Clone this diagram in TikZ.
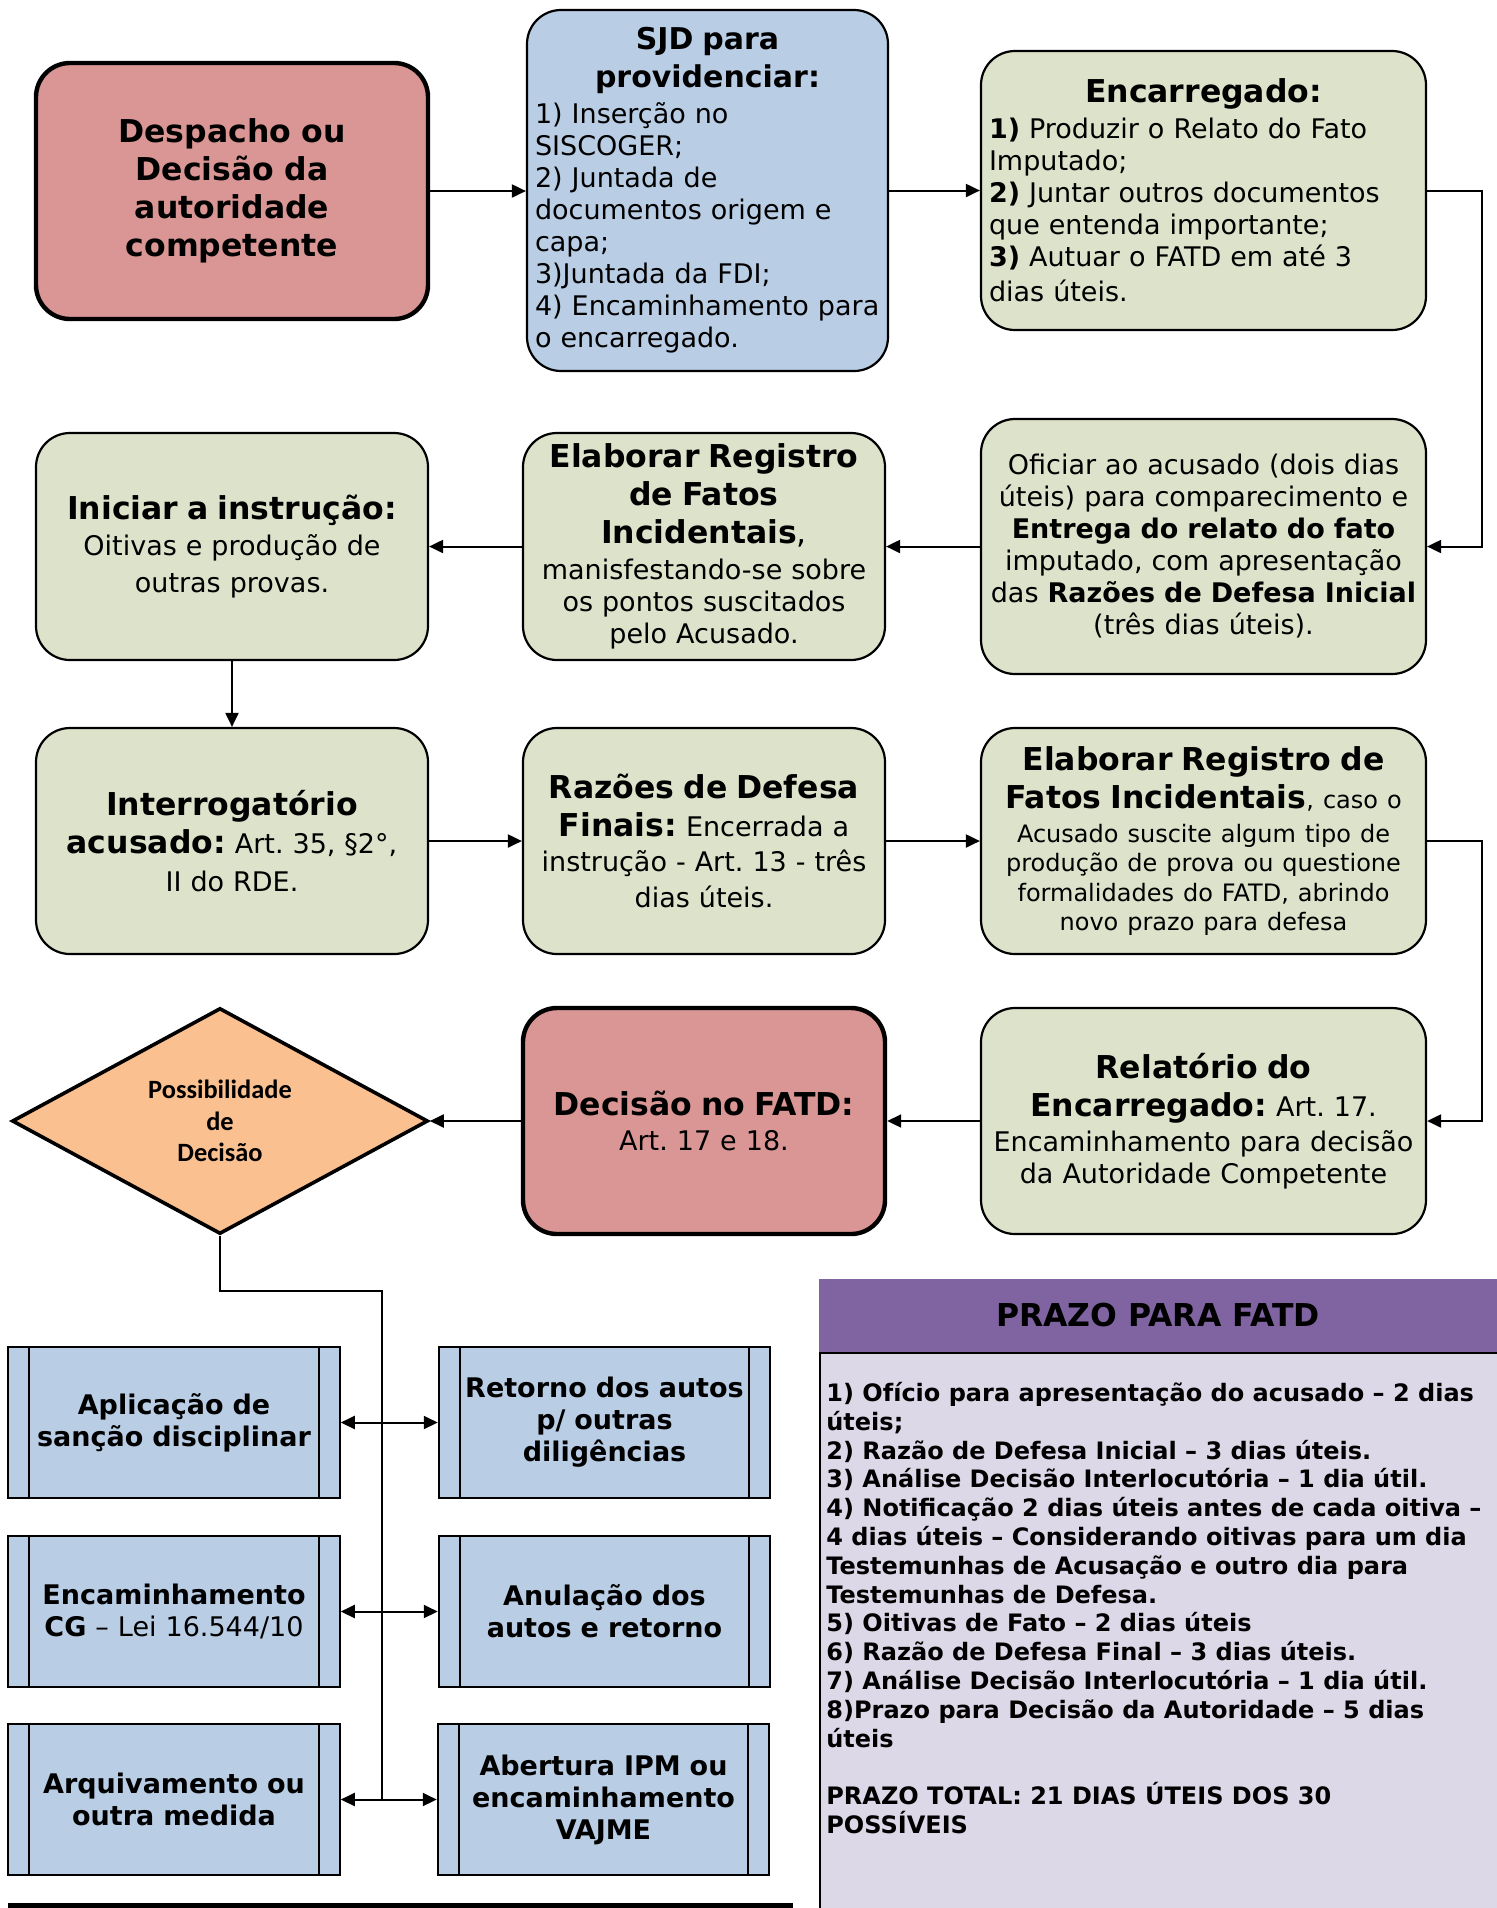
\documentclass[tikz,border=0pt]{standalone}
\usepackage{fontspec}
\setmainfont{DejaVu Sans}
\newfontfamily\carlfont{Carlito}
\usetikzlibrary{shapes.geometric,arrows.meta,calc}
\definecolor{redbox}{HTML}{D99694}
\definecolor{bluebox}{HTML}{B9CDE5}
\definecolor{greenbox}{HTML}{DDE2CB}
\definecolor{peach}{HTML}{FAC090}
\definecolor{purplehd}{HTML}{8064A2}
\definecolor{lavender}{HTML}{DDD8E8}
\newcommand\Tfont{\fontsize{15.75pt}{19pt}\selectfont\bfseries}
\newcommand\Bfont{\fontsize{13.5pt}{16pt}\selectfont}
\newcommand\Sfont{\fontsize{12pt}{14.8pt}\selectfont}
\frenchspacing
\begin{document}
\begin{tikzpicture}[x=0.5pt,y=-0.5pt,
  rbox/.style={rectangle, rounded corners=17pt, draw=black, line width=1.1pt, inner xsep=4pt, inner ysep=0pt, align=center, font=\Bfont},
  gbox/.style={rbox, fill=greenbox},
  redb/.style={rbox, fill=redbox, line width=2.2pt},
  pproc/.style={rectangle, draw=black, line width=1pt, fill=bluebox, minimum width=165.75pt, minimum height=75.5pt, text width=150pt, align=center, inner sep=0pt, font=\Bfont\bfseries,
    path picture={\draw[line width=1pt] ([xshift=10.5pt]path picture bounding box.north west) -- ([xshift=10.5pt]path picture bounding box.south west);
      \draw[line width=1pt] ([xshift=-10.5pt]path picture bounding box.north east) -- ([xshift=-10.5pt]path picture bounding box.south east);}},
  conn/.style={line width=1pt, -{Triangle[length=7pt,width=6.5pt]}},
  dconn/.style={line width=1pt, {Triangle[length=7pt,width=6.5pt]}-{Triangle[length=7pt,width=6.5pt]}},
  plain/.style={line width=1pt}
]
\useasboundingbox (0,0) rectangle (1497,1908);

% Row 1
\node[redb, minimum width=196pt, minimum height=128pt, text width=188pt, font=\Tfont] (desp) at (232,191)
  {Despacho ou\\Decisão da\\autoridade\\competente};
\node[rbox, fill=bluebox, minimum width=180.5pt, minimum height=180.5pt, text width=172.5pt] (sjd) at (707.5,190.5)
  {{\fontsize{15pt}{19pt}\selectfont\bfseries\centering SJD para\\providenciar:\par}\vspace{2pt}{\Bfont\raggedright 1) Inserção no\\SISCOGER;\\2) Juntada de\\documentos origem e\\capa;\\3)Juntada da FDI;\\4) Encaminhamento para\\o encarregado.\par}};
\node[gbox, minimum width=222.5pt, minimum height=139.5pt, text width=214.5pt] (enc) at (1203.5,190.5)
  {{\Tfont\centering Encarregado:\par}\vspace{2pt}{\Bfont\raggedright \textbf{1)} Produzir o Relato do Fato\\Imputado;\\\textbf{2)} Juntar outros documentos\\que entenda importante;\\\textbf{3)} Autuar o FATD em até 3\\[1.5pt]dias úteis.\par}};

% Row 2
\node[gbox, minimum width=196pt, minimum height=113.5pt, text width=188pt] (ini) at (232,546.5)
  {{\Tfont Iniciar a instrução:\par}\vspace{2pt}{\Bfont Oitivas e produção de\\[2.25pt]outras provas.\par}};
\node[gbox, minimum width=181pt, minimum height=113.5pt, text width=173pt] (ela1) at (704,546.5)
  {{\Tfont Elaborar Registro\\de Fatos\\Incidentais{\mdseries ,}\par}\vspace{2pt}{\Bfont manisfestando-se sobre\\os pontos suscitados\\pelo Acusado.\par}};
\node[gbox, minimum width=222.5pt, minimum height=127.5pt, text width=214.5pt] (ofi) at (1203.5,546.5)
  {Oficiar ao acusado (dois dias\\úteis) para comparecimento e\\\textbf{Entrega do relato do fato}\\imputado, com apresentação\\das \textbf{Razões de Defesa Inicial}\\(três dias úteis).};

% Row 3
\node[gbox, minimum width=196pt, minimum height=113pt, text width=188pt] (int) at (232,841)
  {{\Tfont Interrogatório\\acusado: {\Bfont\mdseries Art. 35, §2°,}\par}\vspace{3pt}{\Bfont II do RDE.\par}};
\node[gbox, minimum width=181pt, minimum height=113pt, text width=173pt] (raz) at (704,841)
  {{\Tfont Razões de Defesa\\Finais: {\Bfont\mdseries Encerrada a}\par}\vspace{1.5pt}{\Bfont instrução - Art. 13 - três\\[2.25pt]dias úteis.\par}};
\node[gbox, minimum width=222.5pt, minimum height=113pt, text width=214.5pt] (ela2) at (1203.5,841)
  {{\Tfont Elaborar Registro de\\Fatos Incidentais{\Sfont\mdseries , caso o}\par}\vspace{2.2pt}{\Sfont Acusado suscite algum tipo de\\produção de prova ou questione\\formalidades do FATD, abrindo\\novo prazo para defesa\par}};

% Row 4
\node[diamond, draw=black, line width=1.8pt, fill=peach, minimum width=208pt, minimum height=113pt, aspect=1.84, inner sep=0pt, align=center,
  font=\carlfont\bfseries\fontsize{13.2pt}{15.8pt}\selectfont] (dia) at (220,1121) {Possibilidade\\de\\Decisão};
\node[redb, minimum width=181pt, minimum height=113pt, text width=173pt] (dec) at (704,1121)
  {{\Tfont Decisão no FATD:\par}\vspace{1.5pt}{\Bfont Art. 17 e 18.\par}};
\node[gbox, minimum width=222.5pt, minimum height=113pt, text width=214.5pt] (rel) at (1203.5,1121)
  {{\Tfont Relatório do\\Encarregado: {\Bfont\mdseries Art. 17.}\par}\vspace{1.5pt}{\Bfont Encaminhamento para decisão\\da Autoridade Competente\par}};

% Decision outcomes
\node[pproc] (apl) at (174,1422.5) {Aplicação de\\sanção disciplinar};
\node[pproc] (ret) at (604.5,1422.5) {Retorno dos autos\\p/ outras\\diligências};
\node[pproc] (encg) at (174,1611.5) {Encaminhamento\\CG {\mdseries – Lei 16.544/10}};
\node[pproc] (anu) at (604.5,1611.5) {Anulação dos\\autos e retorno};
\node[pproc] (arq) at (174,1799.5) {Arquivamento ou\\outra medida};
\node[pproc] (abe) at (603.5,1799.5) {Abertura IPM ou\\encaminhamento\\VAJME};

% Panel
\node[rectangle, fill=purplehd, minimum width=339pt, minimum height=36.5pt, inner sep=0pt, font=\Tfont] (hdr) at (1158,1315.5) {PRAZO PARA FATD};
\node[rectangle, fill=lavender, draw=black, line width=1pt, anchor=north west, minimum width=360pt, minimum height=300pt, inner sep=0pt] (pbody) at (819,1352) {};
\node[anchor=west, align=left, inner sep=0pt, font=\fontsize{12pt}{14.4pt}\selectfont\bfseries] (ptext) at (826,1608)
  {1) Ofício para apresentação do acusado – 2 dias\\úteis;\\2) Razão de Defesa Inicial – 3 dias úteis.\\3) Análise Decisão Interlocutória – 1 dia útil.\\4) Notificação 2 dias úteis antes de cada oitiva –\\4 dias úteis – Considerando oitivas para um dia\\Testemunhas de Acusação e outro dia para\\Testemunhas de Defesa.\\5) Oitivas de Fato – 2 dias úteis\\6) Razão de Defesa Final – 3 dias úteis.\\7) Análise Decisão Interlocutória – 1 dia útil.\\8)Prazo para Decisão da Autoridade – 5 dias\\úteis\\[14.4pt]PRAZO TOTAL: 21 DIAS ÚTEIS DOS 30\\POSSÍVEIS};

% bottom cut-off line
\draw[line width=2.5pt] (8,1905) -- (793,1905);

% Connectors
\coordinate (rt) at (1482,0);
\coordinate (j1) at (382,1291);
\draw[conn] (desp.east) -- (desp.east -| sjd.west);
\draw[conn] (sjd.east) -- (sjd.east -| enc.west);
\draw[conn] (enc.east) -- (enc.east -| rt) |- (ofi.east);
\draw[conn] (ofi.west) -- (ela1.east);
\draw[conn] (ela1.west) -- (ini.east);
\draw[conn] (ini.south) -- (int.north);
\draw[conn] (int.east) -- (raz.west);
\draw[conn] (raz.east) -- (ela2.west);
\draw[conn] (ela2.east) -- (ela2.east -| rt) |- (rel.east);
\draw[conn] (rel.west) -- (dec.east);
\draw[conn] (dec.west) -- (dia.east);
\draw[plain] (dia.south) |- (j1) -- (j1 |- arq.east);
\draw[dconn] (apl.east) -- (ret.west);
\draw[dconn] (encg.east) -- (anu.west);
\draw[dconn] (arq.east) -- (abe.west);
\end{tikzpicture}
\end{document}
